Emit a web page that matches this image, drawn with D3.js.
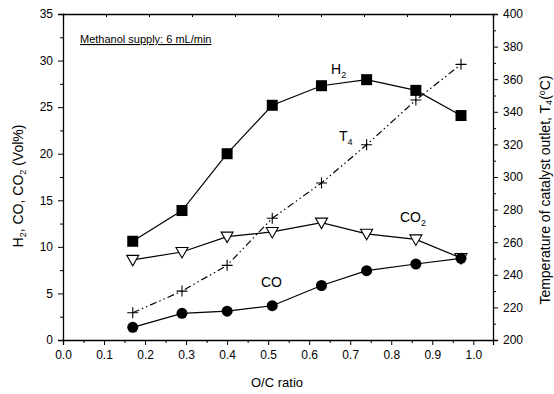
<!DOCTYPE html>
<html>
<head>
<meta charset="utf-8">
<script src="https://cdn.jsdelivr.net/npm/d3@7"></script>
<style>
  body { margin: 0; background: #fff; }
  text { font-family: "Liberation Sans", Arial, sans-serif; fill: #000; }
</style>
</head>
<body>
<div id="chart"></div>
<script>
// data
var ocRatio = [0.17, 0.29, 0.40, 0.51, 0.63, 0.74, 0.86, 0.97];
var h2  = [10.6, 13.9, 20.0, 25.2, 27.3, 27.95, 26.8, 24.1];
var co2 = [8.6, 9.45, 11.1, 11.6, 12.6, 11.4, 10.8, 8.8];
var co  = [1.36, 2.86, 3.1, 3.68, 5.85, 7.44, 8.16, 8.77];
var t4  = [216.7, 230, 245.8, 274.7, 296.3, 319.8, 347.2, 369.1];
var xTicks = [0, 0.1, 0.2, 0.3, 0.4, 0.5, 0.6, 0.7, 0.8, 0.9, 1.0];
var yTicks = [0, 5, 10, 15, 20, 25, 30, 35];
var tTicks = [200, 220, 240, 260, 280, 300, 320, 340, 360, 380, 400];

// dimensions
var margin = {top: 14, right: 61, bottom: 54, left: 63},
    width = 554 - margin.left - margin.right,
    height = 394 - margin.top - margin.bottom;

var svg = d3.select("#chart")
  .append("svg")
    .attr("width", 554)
    .attr("height", 394)
  .append("g")
    .attr("transform", "translate(" + margin.left + "," + margin.top + ")");

var x = d3.scaleLinear().domain([0, 1.048]).range([0, width]);
var y = d3.scaleLinear().domain([0, 35]).range([height, 0]);
var yT = d3.scaleLinear().domain([200, 400]).range([height, 0]);
var xTop = d3.scaleLinear().domain([0, 1]).range([0, width]);

// minor ticks first
svg.append("g")
  .attr("transform", "translate(0," + height + ")")
  .call(d3.axisBottom(x).tickValues(d3.range(0.05, 1.05, 0.1)).tickSize(3).tickFormat(""))
  .call(function(g) { g.select(".domain").remove(); });
svg.append("g")
  .call(d3.axisLeft(y).tickValues(d3.range(2.5, 35, 5)).tickSize(3).tickFormat(""))
  .call(function(g) { g.select(".domain").remove(); });
svg.append("g")
  .attr("transform", "translate(" + width + ",0)")
  .call(d3.axisRight(yT).tickValues(d3.range(210, 400, 20)).tickSize(3).tickFormat(""))
  .call(function(g) { g.select(".domain").remove(); });

// top ticks (inward)
svg.append("g")
  .call(d3.axisBottom(xTop).ticks(10).tickSize(3).tickFormat(""))
  .call(function(g) { g.select(".domain").attr("stroke-width", 1.3); });

// main axes
svg.append("g")
  .attr("transform", "translate(0," + height + ")")
  .call(d3.axisBottom(x).tickValues(xTicks).tickSize(5).tickPadding(5).tickFormat(d3.format(".1f")))
  .call(function(g) { g.select(".domain").attr("stroke-width", 1.3); });
svg.append("g")
  .call(d3.axisLeft(y).tickValues(yTicks).tickSize(5).tickPadding(5))
  .call(function(g) { g.select(".domain").attr("stroke-width", 1.3); });
svg.append("g")
  .attr("transform", "translate(" + width + ",0)")
  .call(d3.axisRight(yT).tickValues(tTicks).tickSize(5).tickPadding(5))
  .call(function(g) { g.select(".domain").attr("stroke-width", 1.3); });

svg.selectAll(".tick text").style("font-size", "12px").style("font-family", "'Liberation Sans', Arial, sans-serif");

// axis titles
svg.append("text")
  .attr("x", width / 2 - 1)
  .attr("y", height + 47)
  .style("text-anchor", "middle")
  .style("font-size", "13px")
  .text("O/C ratio");

var yl = svg.append("text")
  .attr("transform", "translate(" + (-40) + "," + (height / 2 + 9) + ") rotate(-90)")
  .style("text-anchor", "middle")
  .style("font-size", "14px");
yl.append("tspan").text("H");
yl.append("tspan").attr("font-size", "9px").attr("dy", 3).text("2");
yl.append("tspan").attr("dy", -3).text(", CO, CO");
yl.append("tspan").attr("font-size", "9px").attr("dy", 3).text("2");
yl.append("tspan").attr("dy", -3).text(" (Vol%)");

var tl = svg.append("text")
  .attr("transform", "translate(" + (width + 57) + "," + (height / 2 + 13) + ") rotate(-90)")
  .style("text-anchor", "middle")
  .style("font-size", "14px");
tl.append("tspan").text("Temperature of catalyst outlet, T");
tl.append("tspan").attr("font-size", "9px").attr("dy", 2).text("4");
tl.append("tspan").attr("dy", -2).text("(");
tl.append("tspan").attr("font-size", "9px").attr("dy", -5).text("o");
tl.append("tspan").attr("dy", 5).text("C)");

// note
svg.append("text")
  .attr("x", 17)
  .attr("y", 29)
  .style("font-size", "11px")
  .style("text-decoration", "underline")
  .text("Methanol supply: 6 mL/min");

// lines
function series(vals) {
  return vals.map(function(v, i) { return [ocRatio[i], v]; });
}
var lineL = d3.line().x(function(d) { return x(d[0]); }).y(function(d) { return y(d[1]); });
var lineT = d3.line().x(function(d) { return x(d[0]); }).y(function(d) { return yT(d[1]); });

svg.append("path").datum(series(t4)).attr("d", lineT)
  .attr("fill", "none").attr("stroke", "#000").attr("stroke-width", 1.2)
  .attr("stroke-dasharray", "7,3,1.5,3,1.5,3");
svg.append("path").datum(series(h2)).attr("d", lineL)
  .attr("fill", "none").attr("stroke", "#000").attr("stroke-width", 1.2);
svg.append("path").datum(series(co2)).attr("d", lineL)
  .attr("fill", "none").attr("stroke", "#000").attr("stroke-width", 1.2);
svg.append("path").datum(series(co)).attr("d", lineL)
  .attr("fill", "none").attr("stroke", "#000").attr("stroke-width", 1.2);

// markers
svg.append("g").selectAll("path")
  .data(series(t4)).enter().append("path")
    .attr("transform", function(d) { return "translate(" + x(d[0]) + "," + yT(d[1]) + ")"; })
    .attr("d", "M-5.5,0H5.5M0,-5.5V5.5")
    .attr("stroke", "#000").attr("stroke-width", 1.1);

svg.append("g").selectAll("path")
  .data(series(co2)).enter().append("path")
    .attr("transform", function(d) { return "translate(" + x(d[0]) + "," + y(d[1]) + ")"; })
    .attr("d", "M-6,-4.5L6,-4.5L0,6Z")
    .attr("fill", "#fff").attr("stroke", "#000").attr("stroke-width", 1.1);

svg.append("g").selectAll("circle")
  .data(series(co)).enter().append("circle")
    .attr("cx", function(d) { return x(d[0]); })
    .attr("cy", function(d) { return y(d[1]); })
    .attr("r", 5.5)
    .attr("fill", "#000");

svg.append("g").selectAll("rect")
  .data(series(h2)).enter().append("rect")
    .attr("x", function(d) { return x(d[0]) - 5.5; })
    .attr("y", function(d) { return y(d[1]) - 5.5; })
    .attr("width", 11).attr("height", 11)
    .attr("fill", "#000");

// series labels
function label(px, py, main, sub) {
  var t = svg.append("text").attr("x", px).attr("y", py).style("font-size", "14px");
  t.append("tspan").text(main);
  t.append("tspan").attr("font-size", "9px").attr("dy", 4).text(sub);
}
label(268, 60, "H", "2");
label(276, 127, "T", "4");
label(337, 208, "CO", "2");
label(198, 273, "CO", "");
</script>
</body>
</html>
